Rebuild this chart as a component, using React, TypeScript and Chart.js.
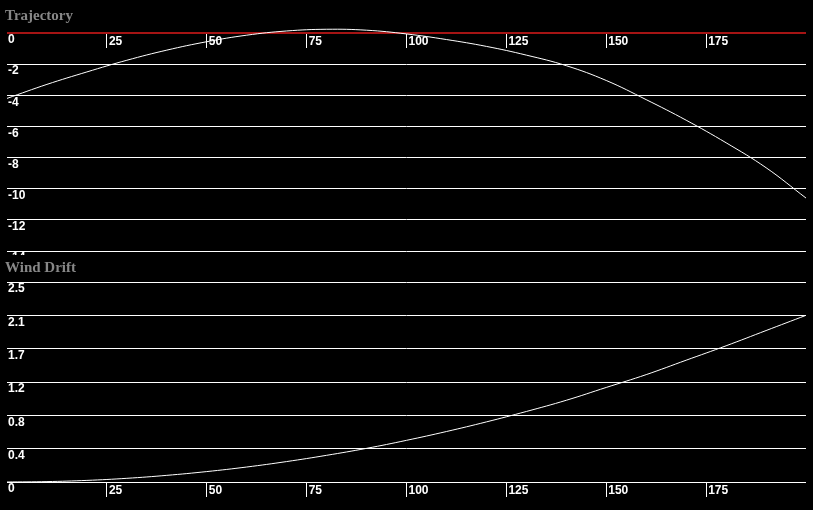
import React, { useEffect, useRef } from 'react';
import { Chart, registerables } from 'chart.js';

Chart.register(...registerables);

// Range in yards
const RANGE_YD = [0, 10, 20, 30, 40, 50, 60, 70, 80, 90, 100, 110, 120, 130, 140, 150, 160, 170, 180, 190, 200];
// Trajectory (inches)
const TRAJECTORY = [-4.2, -3.3, -2.5, -1.75, -1.1, -0.56, -0.14, 0.13, 0.24, 0.18, -0.06, -0.42, -0.86, -1.42, -2.1, -3.05, -4.28, -5.6, -7.05, -8.65, -10.6];
// Wind drift (inches)
const WIND_DRIFT = [0, 0.005, 0.02, 0.046, 0.083, 0.13, 0.187, 0.255, 0.333, 0.42, 0.52, 0.63, 0.75, 0.88, 1.02, 1.18, 1.34, 1.52, 1.7, 1.89, 2.08];

const RANGE_TICKS = [25, 50, 75, 100, 125, 150, 175];
const TRAJ_TICKS = [-14, -12, -10, -8, -6, -4, -2, 0];
const TRAJ_TICK_LABELS = ['-14', '-12', '-10', '-8', '-6', '-4', '-2', '0'];
const DRIFT_TICKS = [0, 0.416, 0.832, 1.248, 1.664, 2.08, 2.496];
const DRIFT_TICK_LABELS = ['0', '0.4', '0.8', '1.2', '1.7', '2.1', '2.5'];

const TITLE_COLOR = '#878787';
const ZERO_RED = 'rgb(165, 20, 20)';
const LABEL_FONT = { family: 'Arial, "Liberation Sans", sans-serif', size: 12, weight: 'bold' };

type PanelProps = {
  title: string;
  values: number[];
  yTicks: number[];
  yLabels: string[];
  yMin: number;
  yMax: number;
  redZero: boolean;
  titlePad: { top: number; bottom: number };
  bottomPad: number;
  canvasHeight: number;
};

function Panel(p: PanelProps) {
  const ref = useRef<HTMLCanvasElement | null>(null);
  useEffect(() => {
    if (!ref.current) return;
    const isZero = (ctx: any) => {
      const v = ctx.tick ? ctx.tick.value : p.yTicks[ctx.index];
      return p.redZero && v === 0;
    };
    const chart = new Chart(ref.current, {
      type: 'line',
      data: {
        datasets: [
          {
            data: RANGE_YD.map((x, i) => ({ x, y: p.values[i] })),
            borderColor: '#ffffff',
            borderWidth: 1,
            pointRadius: 0,
            tension: 0.4,
            fill: false,
            clip: false as any,
          },
        ],
      },
      options: {
        animation: false,
        responsive: false,
        maintainAspectRatio: false,
        layout: { padding: { left: 5, right: 7, top: 0, bottom: p.bottomPad } },
        plugins: {
          legend: { display: false },
          tooltip: { enabled: false },
          title: {
            display: true,
            text: p.title,
            align: 'start',
            color: TITLE_COLOR,
            font: { family: '"Liberation Serif", "Times New Roman", serif', size: 15, weight: 'bold' },
            padding: p.titlePad,
          },
        },
        scales: {
          x: {
            type: 'linear',
            min: 0,
            max: 200,
            position: { y: 0 } as any,
            afterBuildTicks: (scale: any) => {
              scale.ticks = RANGE_TICKS.map((v) => ({ value: v }));
            },
            grid: { drawOnChartArea: false, drawTicks: true, tickLength: 15, color: '#ffffff', tickColor: '#ffffff' },
            border: { display: false },
            ticks: {
              color: '#ffffff',
              font: LABEL_FONT,
              align: 'start',
              labelOffset: 2,
              padding: -13.5,
              autoSkip: false,
              maxRotation: 0,
            },
          },
          y: {
            type: 'linear',
            min: p.yMin,
            max: p.yMax,
            afterBuildTicks: (scale: any) => {
              scale.ticks = p.yTicks.map((v) => ({ value: v }));
            },
            grid: {
              drawTicks: false,
              color: (ctx: any) => (isZero(ctx) ? ZERO_RED : '#ffffff'),
              lineWidth: (ctx: any) => (isZero(ctx) ? 2 : 1),
            },
            border: { display: false },
            ticks: {
              mirror: true,
              padding: 1,
              labelOffset: 7,
              color: '#ffffff',
              font: LABEL_FONT,
              autoSkip: false,
              callback: (value: any) => {
                const idx = p.yTicks.indexOf(Number(value));
                return idx >= 0 ? p.yLabels[idx] : '';
              },
            },
          },
        },
      },
    } as any);
    return () => chart.destroy();
  }, []);
  return (
    <div style={{ width: 813, height: 255, overflow: 'hidden', background: '#000' }}>
      <canvas ref={ref} width={813} height={p.canvasHeight} style={{ display: 'block' }} />
    </div>
  );
}

export default function App() {
  useEffect(() => {
    document.body.style.margin = '0';
    document.body.style.background = '#000';
  }, []);
  return (
    <div style={{ width: 813, height: 510, background: '#000' }}>
      <Panel
        title="Trajectory"
        values={TRAJECTORY}
        yTicks={TRAJ_TICKS}
        yLabels={TRAJ_TICK_LABELS}
        yMin={-14}
        yMax={0}
        redZero={true}
        titlePad={{ top: 7, bottom: 8 }}
        bottomPad={19}
        canvasHeight={270}
      />
      <Panel
        title="Wind Drift"
        values={WIND_DRIFT}
        yTicks={DRIFT_TICKS}
        yLabels={DRIFT_TICK_LABELS}
        yMin={0}
        yMax={2.496}
        redZero={false}
        titlePad={{ top: 4, bottom: 5 }}
        bottomPad={28}
        canvasHeight={255}
      />
    </div>
  );
}
